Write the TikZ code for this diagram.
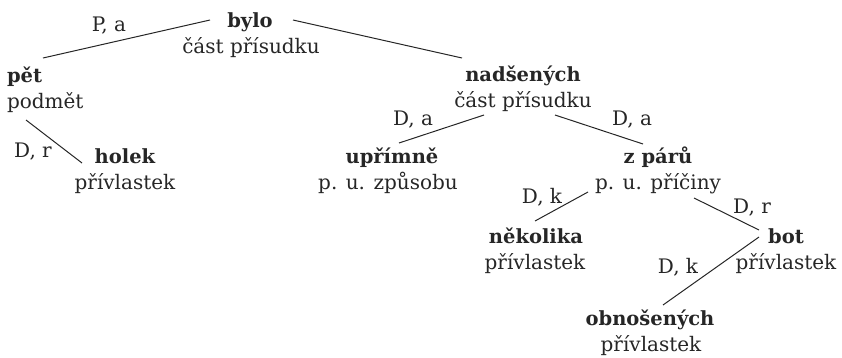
\documentclass[tikz,border=0pt]{standalone}
\usepackage{fontspec}
\setmainfont{DejaVu Serif}
\usetikzlibrary{calc}
\begin{document}
\begin{tikzpicture}[x=1pt,y=-1pt,
  every node/.style={inner sep=0pt,outer sep=0pt,font=\fontsize{20}{20}\selectfont,text=black!85},
  word/.style={anchor=base,font=\fontsize{19.5}{20}\selectfont\bfseries},
  cat/.style={anchor=base},
  lab/.style={anchor=base},
  edge/.style={draw=black!85,line width=1pt}]
\path[use as bounding box] (0,0) rectangle (842,357);
% tree nodes
\node[word] (bylo) at (250,27) {bylo};
\node[cat] (byloc) at (251,53) {část přísudku};
\node[word,anchor=base west] (pet) at (7,82) {pět};
\node[cat,anchor=base west] (petc) at (7,108) {podmět};
\node[word] (holek) at (125,163) {holek};
\node[cat] (holekc) at (125,189) {přívlastek};
\node[word] (nads) at (523,81) {nadšených};
\node[cat] (nadsc) at (523,107) {část přísudku};
\node[word] (upr) at (392,163) {upřímně};
\node[cat] (uprc) at (388,189) {p. u. způsobu};
\node[word] (zpar) at (658,163) {z párů};
\node[cat] (zparc) at (658,189) {p. u. příčiny};
\node[word] (nek) at (536,243) {několika};
\node[cat] (nekc) at (535,269) {přívlastek};
\node[word] (bot) at (786,243) {bot};
\node[cat] (botc) at (786,269) {přívlastek};
\node[word] (obn) at (650,325) {obnošených};
\node[cat] (obnc) at (651,351) {přívlastek};
% edges
\draw[edge] ($(bylo.base)+(-40,-7)$) -- ($(pet.base west)+(36,-24)$);
\draw[edge] ($(bylo.base)+(43,-7)$) -- ($(nads.base)+(-61,-23)$);
\draw[edge] ($(petc.base west)+(19,12)$) -- ($(holek.base)+(-43,0)$);
\draw[edge] ($(nadsc.base)+(-39,8)$) -- ($(upr.base)+(7,-20)$);
\draw[edge] ($(nadsc.base)+(32,8)$) -- ($(zpar.base)+(-15,-19)$);
\draw[edge] ($(zparc.base)+(-70,3)$) -- ($(nek.base)+(-1,-22)$);
\draw[edge] ($(zparc.base)+(36,9)$) -- ($(bot.base)+(-27,-13)$);
\draw[edge] ($(bot.base)+(-27,-6)$) -- ($(obn.base)+(13,-20)$);
% edge labels
\node[lab] (l1) at (109,31) {P, a};
\node[lab] (l2) at (33,157) {D, r};
\node[lab] (l3) at (413,125) {D, a};
\node[lab] (l4) at (632,125) {D, a};
\node[lab] (l5) at (542,203) {D, k};
\node[lab] (l6) at (752,213) {D, r};
\node[lab] (l7) at (678,273) {D, k};
\end{tikzpicture}
\end{document}
